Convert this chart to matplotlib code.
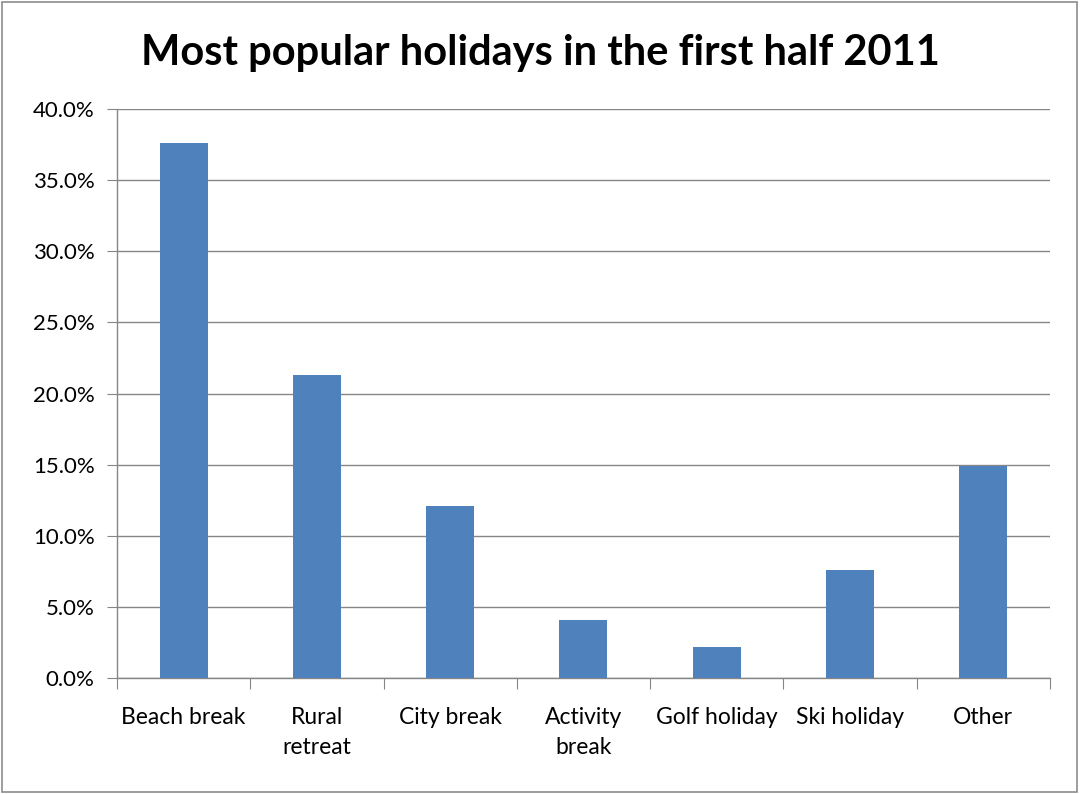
import matplotlib
matplotlib.use("Agg")
import matplotlib.pyplot as plt
from matplotlib.patches import Rectangle
from matplotlib.ticker import FuncFormatter, MultipleLocator

categories = ["Beach break", "Rural\nretreat", "City break", "Activity\nbreak",
              "Golf holiday", "Ski holiday", "Other"]
values = [37.6, 21.3, 12.1, 4.1, 2.2, 7.6, 14.9]
title = "Most popular holidays in the first half 2011"

plt.rcParams['font.family'] = ['Lato', 'DejaVu Sans']

fig = plt.figure(figsize=(10.81, 7.94), dpi=100)
ax = fig.add_axes([0.1082, 0.1461, 0.9713 - 0.1082, 0.8627 - 0.1461])

x = range(len(categories))
ax.bar(x, values, width=0.36, color="#4F81BD", zorder=3)
ax.set_xlim(-0.5, len(categories) - 0.5)
ax.set_ylim(0, 40)
ax.yaxis.set_major_locator(MultipleLocator(5))
ax.yaxis.set_major_formatter(FuncFormatter(lambda v, p: f"{v:.1f}%"))
ax.grid(axis="y", color="#868686", linewidth=1.0, zorder=0)

ax.set_xticks([i + 0.5 for i in range(-1, len(categories))], minor=False)
ax.set_xticklabels([])
ax.set_xticks(list(x), minor=True)
ax.set_xticklabels(categories, minor=True, fontsize=16.5, linespacing=1.5)
ax.tick_params(axis="x", which="major", direction="out", length=8, color="#868686")
ax.tick_params(axis="x", which="minor", length=0, pad=21)
ax.tick_params(axis="y", direction="out", length=7, color="#868686", labelsize=16, pad=9)

for s in ["top", "right"]:
    ax.spines[s].set_visible(False)
for s in ["left", "bottom"]:
    ax.spines[s].set_color("#868686")
    ax.spines[s].set_linewidth(1.0)

fig.text(0.5, 1 - 53 / 794, title, ha="center", va="center", fontsize=30, fontweight="bold")

fig.patches.append(Rectangle((0.002, 0.003), 0.994, 0.994, transform=fig.transFigure,
                             fill=False, edgecolor="#8c8c8c", linewidth=1.2))

fig.savefig("out.png", dpi=100)
